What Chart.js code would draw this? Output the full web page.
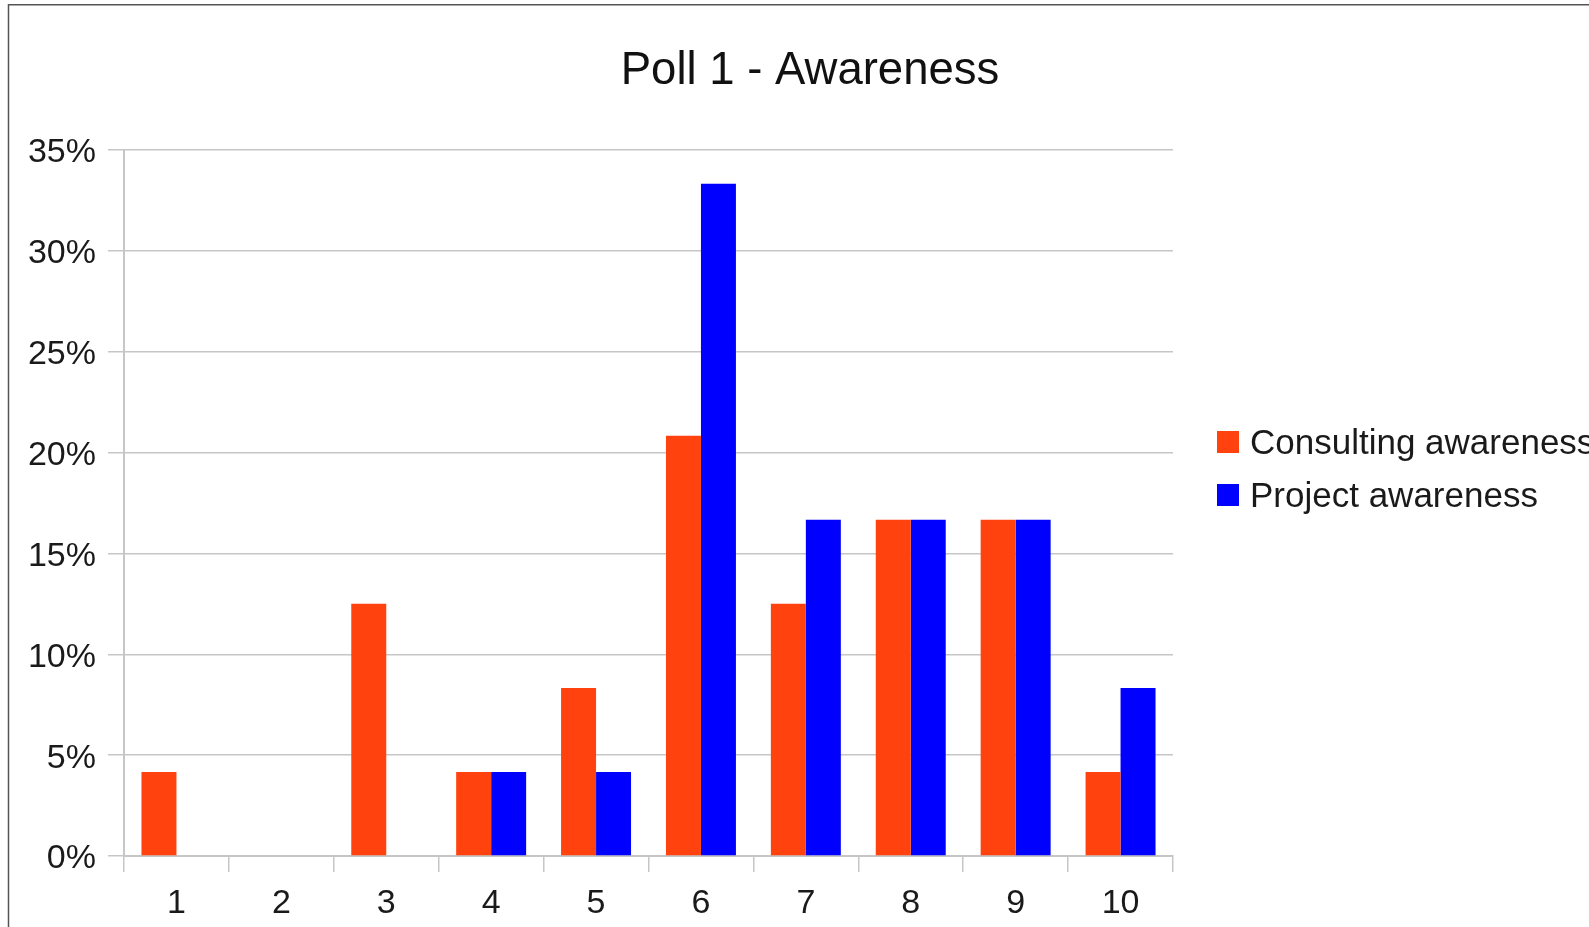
<!DOCTYPE html>
<html>
<head>
<meta charset="utf-8">
<title>Poll 1 - Awareness</title>
<script src="https://cdn.jsdelivr.net/npm/chart.js@4/dist/chart.umd.min.js"></script>
<style>
    html, body { margin: 0; padding: 0; background: #fff; overflow: hidden; }
    #wrap { width: 1589px; height: 927px; }
</style>
</head>
<body>
<div id="wrap"><canvas id="pollChart" width="1589" height="927"></canvas></div>
<script>
// ข้อมูลของกราฟ
const chartTitle = 'Poll 1 - Awareness';
const categories = ['1', '2', '3', '4', '5', '6', '7', '8', '9', '10'];
const consultingAwareness = [4.17, 0, 12.5, 4.17, 8.33, 20.83, 12.5, 16.67, 16.67, 4.17];
const projectAwareness = [0, 0, 0, 4.17, 4.17, 33.33, 16.67, 16.67, 16.67, 8.33];
const seriesNames = ['Consulting awareness', 'Project awareness'];
const yTicks = [0, 5, 10, 15, 20, 25, 30, 35];

const FONT = '"Liberation Sans", Arial, sans-serif';
const GRID = '#c6c6c6';

/**
 * วาดกรอบ หัวเรื่อง และคำอธิบาย (legend)
 */
const decorPlugin = {
    id: 'decor',
    afterDraw(chart) {
        const ctx = chart.ctx;
        ctx.save();

        // กรอบด้านบนและซ้าย
        ctx.strokeStyle = '#555';
        ctx.lineWidth = 1.5;
        ctx.beginPath();
        ctx.moveTo(8.5, 927);
        ctx.lineTo(8.5, 4.75);
        ctx.lineTo(1589, 4.75);
        ctx.stroke();

        // หัวเรื่อง
        ctx.fillStyle = '#111';
        ctx.font = '45.5px ' + FONT;
        ctx.textAlign = 'center';
        ctx.textBaseline = 'middle';
        ctx.fillText(chartTitle, 810, 71);

        // legend
        ctx.font = '35px ' + FONT;
        ctx.textAlign = 'left';
        chart.data.datasets.forEach((ds, i) => {
            const cy = 442 + i * 53;
            ctx.fillStyle = ds.backgroundColor;
            ctx.fillRect(1217, cy - 11, 22, 22);
            ctx.fillStyle = '#1a1a1a';
            ctx.fillText(ds.label, 1250, cy + 2);
        });

        ctx.restore();
    }
};

document.addEventListener('DOMContentLoaded', function() {
    const ctx = document.getElementById('pollChart');

    new Chart(ctx, {
        type: 'bar',
        data: {
            labels: categories,
            datasets: [
                {
                    label: seriesNames[0],
                    data: consultingAwareness,
                    backgroundColor: '#ff420e',
                    borderWidth: 0
                },
                {
                    label: seriesNames[1],
                    data: projectAwareness,
                    backgroundColor: '#0000ff',
                    borderWidth: 0
                }
            ]
        },
        options: {
            responsive: false,
            animation: false,
            events: [],
            layout: {
                padding: { left: 0, right: 416, top: 150, bottom: 0 }
            },
            datasets: {
                bar: {
                    categoryPercentage: 0.667,
                    barPercentage: 1.0
                }
            },
            plugins: {
                legend: { display: false },
                title: { display: false },
                tooltip: { enabled: false }
            },
            scales: {
                x: {
                    offset: true,
                    grid: {
                        offset: true,
                        drawOnChartArea: false,
                        drawTicks: true,
                        tickLength: 16,
                        color: GRID,
                        lineWidth: 1.5
                    },
                    border: { color: GRID, width: 2 },
                    ticks: {
                        color: '#1a1a1a',
                        font: { family: FONT, size: 34 },
                        padding: 11,
                        maxRotation: 0
                    },
                    afterFit(scale) { scale.height = 71; }
                },
                y: {
                    min: 0,
                    max: 35,
                    afterBuildTicks(scale) {
                        scale.ticks = yTicks.map(v => ({ value: v }));
                    },
                    grid: {
                        color: GRID,
                        lineWidth: 1.5,
                        tickLength: 16
                    },
                    border: { color: GRID, width: 2 },
                    ticks: {
                        color: '#1a1a1a',
                        font: { family: FONT, size: 34 },
                        padding: 12,
                        labelOffset: 3,
                        callback: v => v + '%'
                    },
                    afterFit(scale) { scale.width = 124; }
                }
            }
        },
        plugins: [decorPlugin]
    });
});
</script>
</body>
</html>
